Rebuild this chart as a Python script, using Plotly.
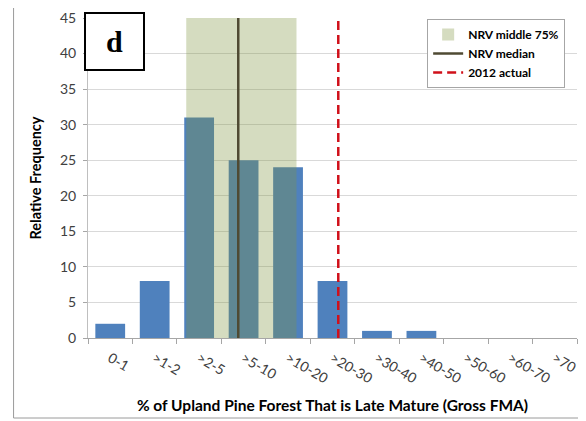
import plotly.graph_objects as go

categories = ["0-1", "&gt;1-2", "&gt;2-5", "&gt;5-10", "&gt;10-20", "&gt;20-30",
              "&gt;30-40", "&gt;40-50", "&gt;50-60", "&gt;60-70", "&gt;70"]
frequency = [2, 8, 31, 25, 24, 8, 1, 1, 0, 0, 0]
nrv_middle_range = [1.71, 4.19]   # category-index positions
nrv_median = 2.88
actual_2012 = 5.13
y_ticks = [0, 5, 10, 15, 20, 25, 30, 35, 40, 45]

# the page body adds an 8px offset, so the figure is 8px smaller and shifted
OFF = 8
W, H = 586 - OFF, 421 - OFF
L, R, T, B = 87.5 - OFF, 586 - 577, 18 - OFF, 421 - 338
pw, ph = W - L - R, H - T - B

def px(x):   # reference page pixel -> paper
    return (x - OFF - L) / pw

def py(y):
    return (H - B - (y - OFF)) / ph

FONT = "Lato"

fig = go.Figure()
fig.add_trace(go.Bar(
    x=categories, y=frequency,
    marker=dict(color="#4f81bd", line=dict(width=0)),
    showlegend=False, hoverinfo="skip",
))

shapes = [
    dict(type="rect", xref="x", yref="y", x0=nrv_middle_range[0], x1=nrv_middle_range[1],
         y0=0, y1=45, fillcolor="rgba(128,149,64,0.33)", line=dict(width=0),
         layer="above", showlegend=True, name="<b>NRV middle 75%</b>", legendrank=1),
    dict(type="line", xref="x", yref="y", x0=nrv_median, x1=nrv_median, y0=0, y1=45,
         line=dict(color="#4f4a33", width=2.5), layer="above",
         showlegend=True, name="<b>NRV median</b>", legendrank=2),
    dict(type="line", xref="x", yref="y", x0=actual_2012, x1=actual_2012, y0=0, y1=45,
         line=dict(color="#d0101a", width=2.5, dash="9px,5px"), layer="above",
         showlegend=True, name="<b>2012 actual</b>", legendrank=3),
    # outer chart border
    dict(type="rect", xref="paper", yref="paper", x0=px(13), x1=px(600), y0=py(418), y1=py(3),
         line=dict(color="#9a9a9a", width=1), fillcolor="rgba(0,0,0,0)", layer="above"),
]

fig.update_layout(
    width=W, height=H,
    margin=dict(l=L, r=R, t=T, b=B, autoexpand=False),
    paper_bgcolor="white", plot_bgcolor="white",
    font=dict(family=FONT, size=14, color="#404040"),
    bargap=0.33,
    shapes=shapes,
    legend=dict(x=px(427), y=py(19), xanchor="left", yanchor="top",
                bgcolor="white", bordercolor="#a6a6a6", borderwidth=1,
                font=dict(family=FONT, size=12, color="#000000"),
                tracegroupgap=0, itemwidth=30),
    annotations=[
        dict(text="<b>d</b>", xref="paper", yref="paper", x=px(83), y=py(12),
             xanchor="left", yanchor="top", showarrow=False,
             font=dict(family="Liberation Serif", size=30, color="black"),
             width=57, height=55, borderwidth=2, bordercolor="black", borderpad=0,
             bgcolor="white", align="center", valign="middle"),
    ],
)

fig.update_xaxes(
    type="category", range=[-0.5, 10.5], tickson="boundaries",
    ticks="outside", ticklen=5, tickcolor="#a6a6a6",
    showline=True, linecolor="#a6a6a6", linewidth=1,
    showgrid=False, tickangle=30, automargin=False, ticklabelstandoff=6,
    tickfont=dict(family=FONT, size=14, color="#404040"),
    title=dict(text="<b>% of Upland Pine Forest That is Late Mature (Gross FMA)</b>",
               font=dict(family=FONT, size=15.5, color="#000000"), standoff=14),
)
fig.update_yaxes(
    range=[0, 45], tickvals=y_ticks, ticks="outside", ticklen=4, tickcolor="#a6a6a6",
    showline=True, linecolor="#bfbfbf", linewidth=1,
    showgrid=True, gridcolor="#d9d9d9", gridwidth=1, zeroline=False,
    automargin=False, ticklabelstandoff=4,
    tickfont=dict(family=FONT, size=14, color="#404040"),
    title=dict(text="<b>Relative Frequency</b>",
               font=dict(family=FONT, size=14.5, color="#000000"), standoff=14),
)

fig.write_html("out.html")
